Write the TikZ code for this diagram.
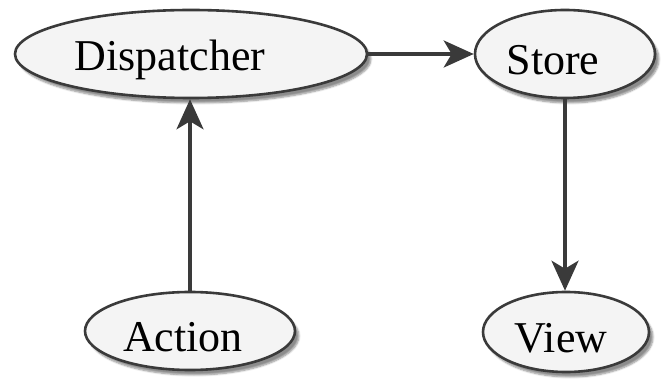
\documentclass[tikz,border=0pt]{standalone}
\usepackage{fontspec}
\setmainfont{Liberation Serif}
\usetikzlibrary{shapes.geometric,arrows.meta,shadows.blur}

\definecolor{edgegray}{HTML}{3A3A3A}
\definecolor{fillgray}{HTML}{F4F4F4}

\tikzset{
  state/.style={ellipse, draw=edgegray, line width=2.6pt, fill=fillgray,
    inner sep=0pt,
    blur shadow={shadow xshift=4pt, shadow yshift=-5pt,
      shadow blur steps=6, shadow opacity=45}},
  % the caption sits a little left of and below the centre
  tag/.style={font=\fontsize{44}{50}\selectfont, inner sep=0pt, yshift=-6pt},
  flow/.style={draw=edgegray, line width=3.6pt,
    -{Stealth[length=30pt, width=27pt, inset=8pt]}}
}

\begin{document}
\begin{tikzpicture}[x=1pt, y=1pt]
    \useasboundingbox (0,0) rectangle (666,383);

    \node[state, minimum width=352pt, minimum height=88pt,
      label={[tag, xshift=-21pt]center:Dispatcher}] (dispatcher) at (191,329) {};
    \node[state, minimum width=180pt, minimum height=88pt,
      label={[tag, xshift=-12pt]center:Store}] (store) at (565,329) {};
    \node[state, minimum width=210pt, minimum height=78pt,
      label={[tag, xshift=-7pt]center:Action}] (action) at (190,52) {};
    \node[state, minimum width=166pt, minimum height=80pt,
      label={[tag, xshift=-5pt]center:View}] (view) at (566,51) {};

    \draw[flow] (dispatcher.east) -- (store.west);
    \draw[flow] (action.north) -- (action.north |- dispatcher.south);
    \draw[flow] (store.south) -- (store.south |- view.north);
  \end{tikzpicture}
\end{document}
